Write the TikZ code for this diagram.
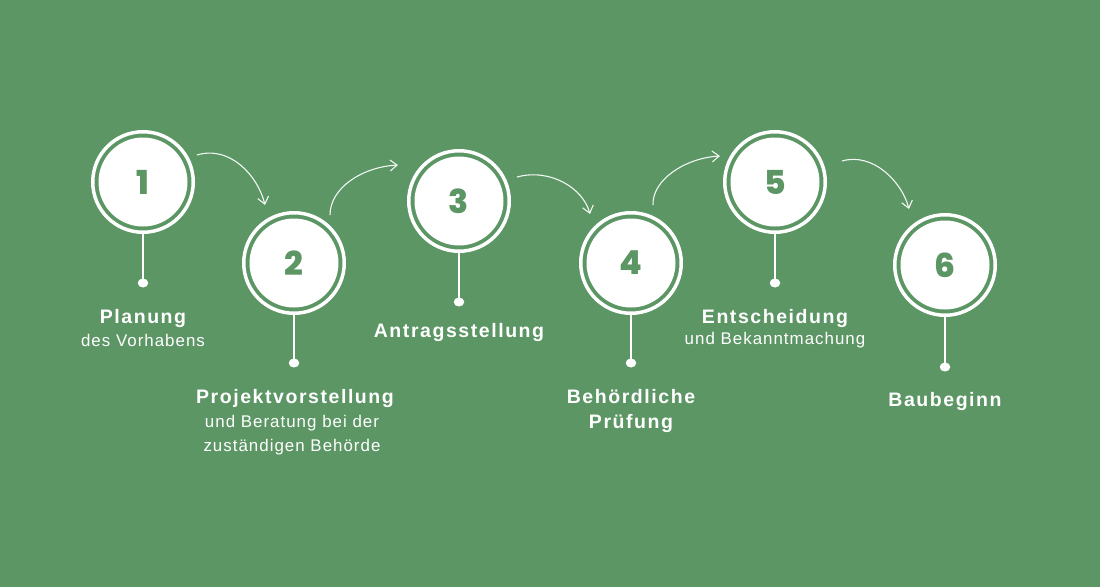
\documentclass[tikz,border=0pt]{standalone}
\usepackage{fontspec}
\setmainfont{Liberation Sans}
\newfontfamily\titlefont[LetterSpace=8]{Liberation Sans}
\newfontfamily\subfont[LetterSpace=6]{Liberation Sans}
\newfontfamily\numfont{Poppins ExtraBold}
\usetikzlibrary{arrows.meta,shapes.geometric}
\definecolor{bg}{RGB}{91,150,100}
\tikzset{
  ring/.style={circle,draw=white,line width=3.5pt,minimum size=100.5pt,inner sep=0pt},
  disc/.style={circle,fill=white,minimum size=89pt,inner sep=0pt,text=bg,font=\numfont\fontsize{33}{33}\selectfont},
  dot/.style={ellipse,fill=white,minimum width=10.5pt,minimum height=9pt,inner sep=0pt},
  stem/.style={draw=white,line width=2pt},
  flow/.style={draw=white!92!bg,line width=1.1pt,-{Straight Barb[length=7pt,width=11pt,line width=1.1pt]}},
  ttl/.style={anchor=base,text=white,font=\titlefont\bfseries\fontsize{19.5}{22}\selectfont,inner sep=0pt},
  sub/.style={anchor=base,text=white,font=\subfont\fontsize{16.9}{20}\selectfont,inner sep=0pt}
}
\begin{document}
\begin{tikzpicture}[x=1pt,y=-1pt]
\useasboundingbox (0,0) rectangle (1100,587);
\fill[bg] (0,0) rectangle (1100,587);
% circles
\foreach \i/\x/\y in {1/143/182,2/294/263,3/459/201,4/631/263,5/775/182,6/945/265}{
  \node[disc] (c\i) at (\x,\y) {\i};
  \node[ring] (r\i) at (\x,\y) {};
}
% dots
\node[dot] (d1) at (143,283) {};
\node[dot] (d2) at (294,363) {};
\node[dot] (d3) at (459,302) {};
\node[dot] (d4) at (631,363) {};
\node[dot] (d5) at (775,283) {};
\node[dot] (d6) at (945,367) {};
\foreach \i in {1,...,6}{ \draw[stem] (r\i.south) -- (d\i.center); }
% arrows
\coordinate (a1s) at (197,155); \coordinate (a1e) at (265,205);
\coordinate (a2s) at (330,215); \coordinate (a2e) at (398,165);
\coordinate (a3s) at (517,177); \coordinate (a3e) at (590,214);
\coordinate (a4s) at (653,205); \coordinate (a4e) at (720,156);
\coordinate (a5s) at (842,161); \coordinate (a5e) at (909,209);
\draw[flow] (a1s) .. controls (230,145) and (258,176) .. (a1e);
\draw[flow] (a2s) .. controls (330,188) and (362,167) .. (a2e);
\draw[flow] (a3s) .. controls (550,168) and (583,188) .. (a3e);
\draw[flow] (a4s) .. controls (652,180) and (685,158) .. (a4e);
\draw[flow] (a5s) .. controls (873,152) and (902,182) .. (a5e);
% labels
\node[ttl] (l1a) at (143,323) {Planung};
\node[sub] (l1b) at (143,346) {des Vorhabens};
\node[ttl] (l2a) at (295,403) {Projektvorstellung};
\node[sub] (l2b) at (292,427) {und Beratung bei der};
\node[sub] (l2c) at (292,451) {zuständigen Behörde};
\node[ttl] (l3a) at (459,337) {Antragsstellung};
\node[ttl] (l4a) at (631,403) {Behördliche};
\node[ttl] (l4b) at (631,428) {Prüfung};
\node[ttl] (l5a) at (775,323) {Entscheidung};
\node[sub] (l5b) at (775,344) {und Bekanntmachung};
\node[ttl] (l6a) at (945,406) {Baubeginn};
\end{tikzpicture}
\end{document}
